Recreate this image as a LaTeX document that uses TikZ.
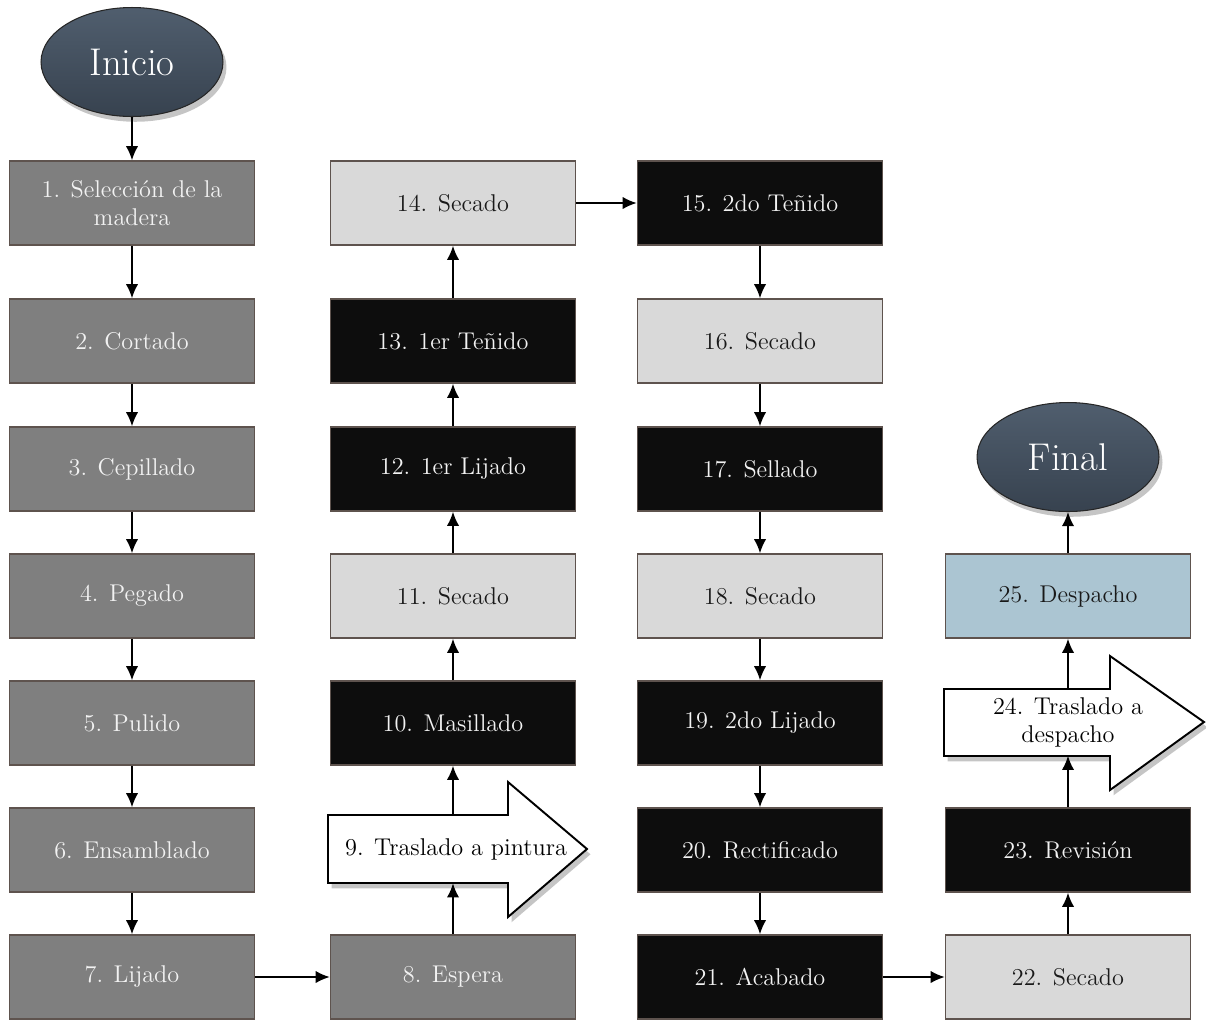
\documentclass[tikz,border=0pt]{standalone}
\usepackage{tikz}
\usetikzlibrary{arrows.meta,shapes.geometric,shadows}

\definecolor{borde}{HTML}{5E534E}
\definecolor{cgris}{HTML}{7F7F7F}
\definecolor{cclaro}{HTML}{D9D9D9}
\definecolor{cnegro}{HTML}{0D0D0D}
\definecolor{cazul}{HTML}{ABC5D2}
\definecolor{elarriba}{HTML}{505E6E}
\definecolor{elabajo}{HTML}{37424F}

\begin{document}
\begin{tikzpicture}[x=0.02cm, y=-0.02cm,
	caja/.style={rectangle, draw=borde, line width=0.9pt, minimum width=4.9cm, minimum height=1.68cm, inner sep=2pt, align=center, font=\fontsize{13.8}{16}\selectfont},
	gris/.style={caja, fill=cgris, text=white!95!black},
	claro/.style={caja, fill=cclaro, text=black!90},
	negro/.style={caja, fill=cnegro, text=white!95!black},
	azul/.style={caja, fill=cazul, text=black!90},
	term/.style={ellipse, draw=black!85, semithick, minimum width=3.64cm, minimum height=2.18cm, inner sep=0pt, top color=elarriba, bottom color=elabajo, text=white, font=\fontsize{22}{24}\selectfont, drop shadow={shadow xshift=2pt, shadow yshift=-3pt, fill=black!45, opacity=.5}},
	flecha/.style={draw=black, line width=1.1pt, line join=miter, fill=white, drop shadow={shadow xshift=2pt, shadow yshift=-3pt, fill=black!45, opacity=.5}},
	texflecha/.style={rectangle, inner sep=0pt, align=center, text=black, font=\fontsize{13.8}{16}\selectfont},
	conn/.style={-{Latex[length=8pt,width=7pt]}, line width=0.9pt, black}]
				\useasboundingbox (0,0) rectangle (1206,1019);
				% block arrows behind their text
				\draw [flecha] (328,815) -- (508,815) -- (508,782) -- (587,849) -- (508,917) -- (508,883) -- (328,883) -- cycle;
				\draw [flecha] (944,689) -- (1110,689) -- (1110,656) -- (1204,722) -- (1110,790) -- (1110,756) -- (944,756) -- cycle;
				% start and end
				\node [term] (ini) at (132,62) {Inicio};
				\node [term] (fin) at (1068,457) {Final};
				% first column
				\node [gris] (b1) at (132,203) {1. Selección de la\\madera};
				\node [gris] (b2) at (132,341) {2. Cortado};
				\node [gris] (b3) at (132,469) {3. Cepillado};
				\node [gris] (b4) at (132,596) {4. Pegado};
				\node [gris] (b5) at (132,723) {5. Pulido};
				\node [gris] (b6) at (132,850) {6. Ensamblado};
				\node [gris] (b7) at (132,977) {7. Lijado};
				% second column
				\node [gris] (b8) at (453,977) {8. Espera};
				\node [texflecha, minimum height=1.36cm] (b9) at (456,849) {9. Traslado a pintura};
				\node [negro] (b10) at (453,723) {10. Masillado};
				\node [claro] (b11) at (453,596) {11. Secado};
				\node [negro] (b12) at (453,469) {12. 1er Lijado};
				\node [negro] (b13) at (453,341) {13. 1er Teñido};
				\node [claro] (b14) at (453,203) {14. Secado};
				% third column
				\node [negro] (b15) at (760,203) {15. 2do Teñido};
				\node [claro] (b16) at (760,341) {16. Secado};
				\node [negro] (b17) at (760,469) {17. Sellado};
				\node [claro] (b18) at (760,596) {18. Secado};
				\node [negro] (b19) at (760,723) {19. 2do Lijado};
				\node [negro] (b20) at (760,850) {20. Rectificado};
				\node [negro] (b21) at (760,977) {21. Acabado};
				% fourth column
				\node [claro] (b22) at (1068,977) {22. Secado};
				\node [negro] (b23) at (1068,850) {23. Revisión};
				\node [texflecha, minimum height=1.34cm] (b24) at (1068,722) {24. Traslado a\\despacho};
				\node [azul] (b25) at (1068,596) {25. Despacho};
				% connectors
				\draw [conn] (ini) -- (b1);
				\draw [conn] (b1) -- (b2);
				\draw [conn] (b2) -- (b3);
				\draw [conn] (b3) -- (b4);
				\draw [conn] (b4) -- (b5);
				\draw [conn] (b5) -- (b6);
				\draw [conn] (b6) -- (b7);
				\draw [conn] (b7) -- (b8);
				\draw [conn] (b8.north) -- (b8.north |- b9.south);
				\draw [conn] (b10.south |- b9.north) -- (b10.south);
				\draw [conn] (b10) -- (b11);
				\draw [conn] (b11) -- (b12);
				\draw [conn] (b12) -- (b13);
				\draw [conn] (b13) -- (b14);
				\draw [conn] (b14) -- (b15);
				\draw [conn] (b15) -- (b16);
				\draw [conn] (b16) -- (b17);
				\draw [conn] (b17) -- (b18);
				\draw [conn] (b18) -- (b19);
				\draw [conn] (b19) -- (b20);
				\draw [conn] (b20) -- (b21);
				\draw [conn] (b21) -- (b22);
				\draw [conn] (b22) -- (b23);
				\draw [conn] (b23) -- (b24);
				\draw [conn] (b24) -- (b25);
				\draw [conn] (b25) -- (fin);
			\end{tikzpicture}
\end{document}
